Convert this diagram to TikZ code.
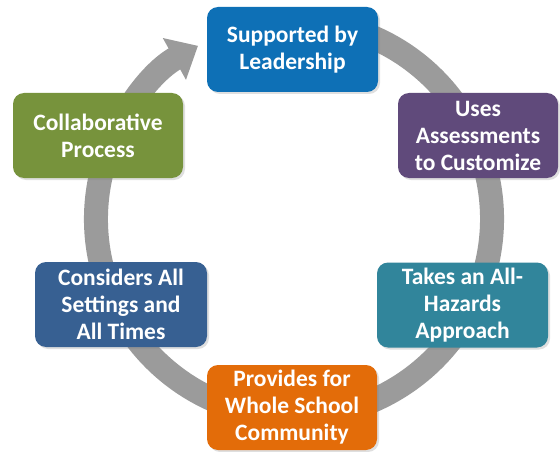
\documentclass[tikz,border=0pt]{standalone}
\usepackage{fontspec}
\setmainfont{Carlito}
\usetikzlibrary{arrows.meta,shadows,calc}
\definecolor{cTop}{RGB}{14,112,182}
\definecolor{cPurple}{RGB}{96,74,123}
\definecolor{cGreen}{RGB}{119,147,60}
\definecolor{cDark}{RGB}{55,96,146}
\definecolor{cTeal}{RGB}{49,133,155}
\definecolor{cOrange}{RGB}{227,108,9}
\definecolor{cRing}{RGB}{155,155,155}
\tikzset{
  stepbox/.style={rounded corners=11pt, minimum height=85pt, inner sep=0pt,
    text=white, align=center, font=\fontsize{23.5}{27}\selectfont\bfseries,
    drop shadow={opacity=0.25, shadow xshift=2pt, shadow yshift=-2pt}},
  ring/.style={draw=cRing, line width=24pt,
    -{Triangle[width=46pt,length=27pt]}}
}
\begin{document}
\begin{tikzpicture}[x=1pt,y=-1pt]
\path[use as bounding box, fill=white] (0,0) rectangle (560,452);
\coordinate (c) at (294,219);
\draw[ring] ($(c)+(-75:198)$) arc[start angle=-75, end angle=241, radius=198];
\node[stepbox, fill=cTop, minimum width=171pt] (lead) at (292.5,49.5) {Supported by\\Leadership};
\node[stepbox, fill=cPurple, minimum width=160pt] (assess) at (478,135.5) {Uses\\Assessments\\to Customize};
\node[stepbox, fill=cGreen, minimum width=170pt] (collab) at (98,135.5) {Collaborative\\Process};
\node[stepbox, fill=cDark, minimum width=172pt] (settings) at (121,304.5) {Considers All\\Settings and\\All Times};
\node[stepbox, fill=cTeal, minimum width=171pt] (hazards) at (462.5,305) {Takes an All-\\Hazards\\Approach};
\node[stepbox, fill=cOrange, minimum width=170pt] (school) at (292,407.5) {Provides for\\Whole School\\Community};
\end{tikzpicture}
\end{document}
